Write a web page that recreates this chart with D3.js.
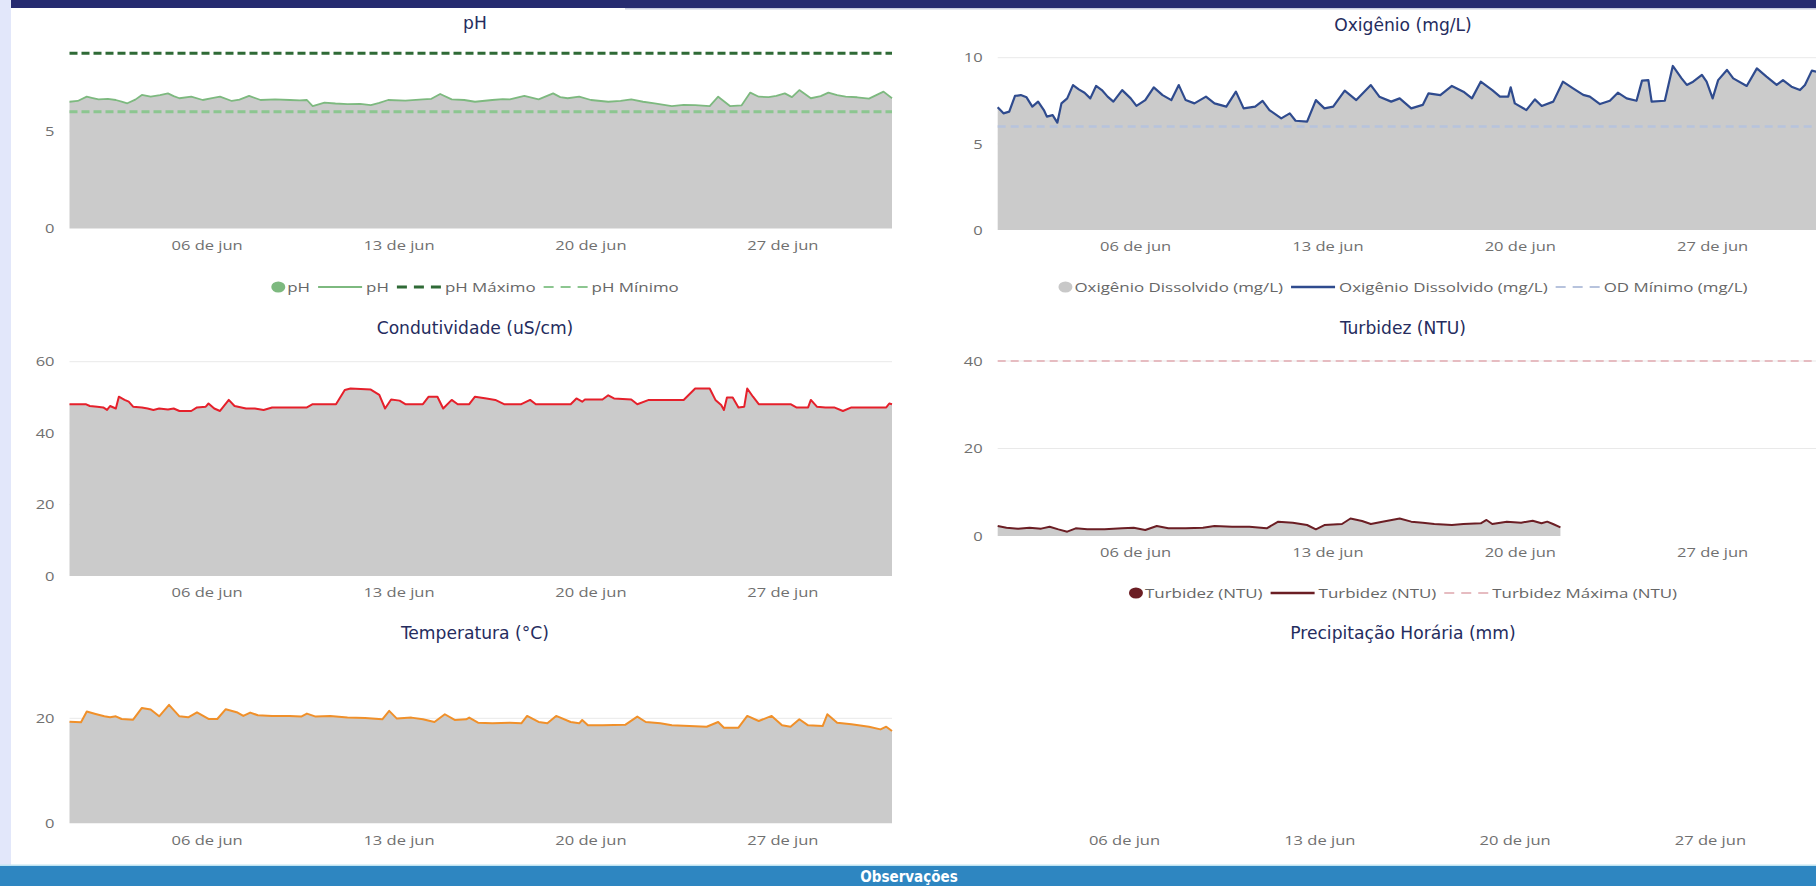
<!DOCTYPE html>
<html><head><meta charset="utf-8">
<script src="https://cdn.jsdelivr.net/npm/d3@7/dist/d3.min.js"></script>
<style>
html,body{margin:0;padding:0;background:#fff;overflow:hidden;}
svg{display:block;}
.title{font-family:"DejaVu Sans Condensed","DejaVu Sans",sans-serif;font-stretch:condensed;font-size:17px;fill:#252c5e;}
.tick text{font-family:"Open Sans",sans-serif;font-size:13px;fill:#707070;}
.legend text{font-family:"Open Sans",sans-serif;font-size:13px;fill:#666;}
</style></head>
<body>
<svg id="c" width="1816" height="886"></svg>
<script>
// ---------- data (day offset from 01 jun, value) ----------
const xTickDays = [5, 12, 19, 26];
const xTickLabels = ["06 de jun", "13 de jun", "20 de jun", "27 de jun"];

const phTicks = [0, 5];
const phMax = 9, phMin = 6;
const phData = [[0,6.51],[0.3,6.55],[0.63,6.77],[0.85,6.70],[1.06,6.63],[1.4,6.66],[1.69,6.60],[1.9,6.52],[2.11,6.43],[2.4,6.62],[2.64,6.86],[2.96,6.77],[3.3,6.85],[3.59,6.94],[3.8,6.80],[4.01,6.69],[4.44,6.77],[4.86,6.60],[5.2,6.70],[5.49,6.77],[5.92,6.55],[6.2,6.62],[6.55,6.81],[6.97,6.60],[7.5,6.63],[8.03,6.60],[8.4,6.58],[8.66,6.60],[8.87,6.29],[9.30,6.46],[9.7,6.42],[10.14,6.39],[10.6,6.40],[10.99,6.34],[11.3,6.45],[11.62,6.60],[12.25,6.57],[12.89,6.63],[13.2,6.66],[13.52,6.91],[13.94,6.63],[14.4,6.60],[14.79,6.51],[15.42,6.60],[15.8,6.65],[16.06,6.63],[16.59,6.81],[17.11,6.63],[17.64,6.94],[17.9,6.75],[18.17,6.69],[18.59,6.77],[19.02,6.60],[19.65,6.51],[20.1,6.55],[20.49,6.63],[20.92,6.51],[21.34,6.43],[21.97,6.29],[22.4,6.35],[22.82,6.34],[23.35,6.29],[23.66,6.77],[24.09,6.29],[24.51,6.32],[24.83,6.98],[25.14,6.77],[25.5,6.75],[25.78,6.81],[26.09,6.94],[26.35,6.75],[26.62,7.11],[27.04,6.69],[27.4,6.80],[27.68,6.98],[28.0,6.85],[28.31,6.77],[28.73,6.74],[29.16,6.67],[29.69,7.03],[30,6.69]];

const odTicks = [0, 5, 10];
const odMin = 6;
const odData = [[0,7.12],[0.21,6.77],[0.42,6.87],[0.63,7.78],[0.84,7.83],[1.05,7.70],[1.26,7.16],[1.47,7.45],[1.68,6.96],[1.79,6.58],[2.0,6.67],[2.17,6.23],[2.32,7.35],[2.53,7.64],[2.74,8.41],[2.95,8.16],[3.16,7.97],[3.37,7.64],[3.58,8.36],[3.79,8.12],[4.0,7.74],[4.21,7.45],[4.53,8.12],[4.84,7.64],[5.05,7.20],[5.37,7.54],[5.68,8.28],[6.0,7.83],[6.32,7.54],[6.59,8.41],[6.84,7.54],[7.16,7.35],[7.58,7.74],[7.89,7.35],[8.32,7.16],[8.67,8.03],[8.95,7.06],[9.37,7.16],[9.64,7.49],[9.89,6.96],[10.32,6.48],[10.63,6.77],[10.84,6.34],[11.26,6.29],[11.58,7.54],[11.89,7.06],[12.21,7.16],[12.63,8.09],[13.05,7.54],[13.58,8.41],[13.89,7.74],[14.32,7.45],[14.63,7.64],[15.05,7.06],[15.47,7.26],[15.68,7.93],[16.11,7.83],[16.53,8.36],[16.95,8.03],[17.26,7.64],[17.58,8.61],[18.0,8.12],[18.28,7.74],[18.58,7.74],[18.67,8.28],[18.82,7.35],[19.24,6.96],[19.55,7.58],[19.80,7.2],[20.22,7.45],[20.57,8.61],[20.94,8.22],[21.31,7.84],[21.55,7.74],[21.92,7.31],[22.28,7.5],[22.57,7.97],[22.89,7.64],[23.25,7.5],[23.45,8.67],[23.68,8.70],[23.80,7.45],[24.28,7.5],[24.57,9.52],[24.89,8.80],[25.08,8.42],[25.31,8.61],[25.63,9.0],[25.80,8.61],[26.02,7.64],[26.22,8.70],[26.54,9.29],[26.77,8.80],[27.26,8.36],[27.63,9.38],[27.98,8.9],[28.35,8.42],[28.58,8.70],[28.89,8.32],[29.20,8.12],[29.38,8.42],[29.63,9.25],[30.03,9.09]];

const condTicks = [0, 20, 40, 60];
const condData = [[0,48.1],[0.59,48.1],[0.74,47.6],[1.01,47.4],[1.23,47.2],[1.37,46.5],[1.48,47.6],[1.69,46.9],[1.80,50.2],[2.01,49.3],[2.16,48.8],[2.32,47.4],[2.64,47.2],[2.85,46.9],[3.06,46.5],[3.27,46.9],[3.59,46.6],[3.80,46.9],[4.01,46.2],[4.44,46.2],[4.65,47.2],[4.97,47.4],[5.07,48.3],[5.28,46.9],[5.49,46.2],[5.81,49.3],[6.02,47.6],[6.44,46.9],[6.76,46.9],[7.08,46.5],[7.39,47.2],[8.03,47.2],[8.66,47.2],[8.87,48.1],[9.72,48.1],[10.04,52.1],[10.25,52.5],[10.99,52.2],[11.30,50.7],[11.51,46.9],[11.73,49.4],[12.04,49.1],[12.25,48.1],[12.89,48.1],[13.10,50.2],[13.42,50.2],[13.63,46.9],[13.94,49.3],[14.16,48.1],[14.58,48.1],[14.79,50.2],[15.21,49.7],[15.53,49.3],[15.85,48.1],[16.48,48.1],[16.80,49.3],[17.01,48.1],[18.28,48.1],[18.49,49.7],[18.70,48.8],[18.80,49.4],[19.44,49.4],[19.65,50.6],[19.86,49.7],[20.49,49.4],[20.71,48.1],[21.13,49.3],[21.45,49.3],[22.40,49.3],[22.82,52.5],[23.35,52.5],[23.56,49.3],[23.77,47.9],[23.87,46.5],[23.98,50.0],[24.19,50.0],[24.40,47.2],[24.61,47.4],[24.72,52.5],[24.93,50.2],[25.14,48.1],[25.35,48.1],[26.30,48.1],[26.51,47.2],[26.94,47.2],[27.04,49.3],[27.26,47.4],[27.57,47.2],[27.89,47.2],[28.21,46.2],[28.52,47.2],[29.79,47.2],[29.90,48.3],[30,48.1]];

const turbTicks = [0, 20, 40];
const turbMax = 40;
const turbData = [[0,2.29],[0.32,1.90],[0.74,1.68],[1.16,1.90],[1.58,1.68],[1.89,2.13],[2.21,1.52],[2.53,0.99],[2.84,1.75],[3.26,1.52],[3.89,1.52],[4.53,1.75],[4.95,1.90],[5.37,1.37],[5.79,2.29],[6.21,1.75],[6.84,1.75],[7.47,1.90],[7.89,2.29],[8.53,2.13],[9.16,2.13],[9.79,1.75],[10.21,3.28],[10.74,3.05],[11.26,2.51],[11.58,1.52],[11.89,2.51],[12.53,2.74],[12.84,4.0],[13.26,3.43],[13.58,2.74],[14.0,3.28],[14.63,4.0],[15.05,3.28],[15.47,3.05],[15.89,2.74],[16.53,2.51],[16.95,2.74],[17.58,2.9],[17.79,3.66],[18.0,2.74],[18.53,3.28],[19.05,3.05],[19.47,3.5],[19.79,2.9],[20.0,3.28],[20.21,2.74],[20.48,1.98]];

const tempTicks = [0, 20];
const tempData = [[0,19.36],[0.42,19.23],[0.63,21.28],[0.95,20.83],[1.27,20.38],[1.48,20.19],[1.69,20.38],[1.90,19.87],[2.32,19.74],[2.64,21.98],[2.96,21.66],[3.27,20.38],[3.63,22.56],[4.01,20.38],[4.33,20.19],[4.65,21.15],[5.07,19.87],[5.39,19.87],[5.70,21.73],[6.13,21.09],[6.34,20.45],[6.59,21.09],[6.87,20.58],[7.39,20.45],[8.03,20.45],[8.45,20.32],[8.66,20.89],[8.98,20.32],[9.51,20.45],[10.14,20.13],[10.78,20.06],[11.41,19.81],[11.66,21.41],[11.94,19.94],[12.47,20.13],[12.89,19.81],[13.31,19.30],[13.69,20.77],[14.05,19.68],[14.47,19.81],[14.58,20.13],[14.90,19.17],[15.42,19.04],[16.06,19.17],[16.48,19.04],[16.69,20.45],[17.11,19.30],[17.43,19.04],[17.75,20.45],[18.28,19.30],[18.59,19.04],[18.70,19.68],[18.91,18.66],[19.44,18.66],[20.28,18.79],[20.71,20.32],[21.02,19.30],[21.55,19.04],[21.97,18.66],[22.61,18.53],[23.24,18.40],[23.66,19.30],[23.87,18.21],[24.40,18.21],[24.72,20.45],[25.14,19.49],[25.61,20.45],[25.99,18.66],[26.30,18.40],[26.62,19.81],[26.94,18.66],[27.47,18.53],[27.64,20.77],[28.00,19.17],[28.52,18.85],[29.16,18.40],[29.58,17.89],[29.79,18.40],[30,17.57]];

const precipData = [];

// ---------- drawing ----------
const svg = d3.select("#c");
svg.append("rect").attr("x",0).attr("y",0).attr("width",11).attr("height",866).attr("fill","#e2e7fa");
svg.append("rect").attr("x",11).attr("y",0).attr("width",1805).attr("height",8).attr("fill","#262b70");
svg.append("rect").attr("x",625).attr("y",8).attr("width",1191).attr("height",1.5).attr("fill","#c9cde0");

const FILL = "#cbcbcb";
// the screenshot's text is horizontally widened; reproduce by stretching glyphs
function stretch(sel, f) {
  sel.each(function() {
    const L = this.getComputedTextLength();
    this.setAttribute("textLength", (L * f).toFixed(2));
    this.setAttribute("lengthAdjust", "spacingAndGlyphs");
  });
}

function chart(c) {
  const g = svg.append("g");
  const x = d3.scaleLinear().domain([0, 30]).range([c.x0, c.x1]);
  const y = d3.scaleLinear().domain(c.yDomain).range([c.yBase, c.yTop]);
  // title
  g.append("text").attr("class","title").attr("x",c.cx).attr("y",c.titleY)
    .attr("text-anchor","middle").attr("dominant-baseline","central").text(c.title)
    .call(stretch, 1.12);
  // gridlines
  if (c.yTicks) {
    g.append("g").selectAll("line").data(c.yTicks.filter(t => t > 0)).join("line")
      .attr("x1",c.x0).attr("x2",c.x1).attr("y1",d=>y(d)).attr("y2",d=>y(d))
      .attr("stroke","#e9e9e9").attr("stroke-width",1);
  }
  // area + line
  if (c.data && c.data.length) {
    const area = d3.area().x(d=>x(d[0])).y0(y(0)).y1(d=>y(d[1]));
    g.append("path").datum(c.data).attr("d",area).attr("fill",FILL);
  }
  // reference lines
  (c.refs||[]).forEach(r => {
    g.append("line").attr("x1",c.x0).attr("x2",c.x1).attr("y1",y(r.v)).attr("y2",y(r.v))
      .attr("stroke",r.color).attr("stroke-width",r.w).attr("stroke-dasharray",r.dash);
  });
  if (c.data && c.data.length) {
    const line = d3.line().x(d=>x(d[0])).y(d=>y(d[1]));
    g.append("path").datum(c.data).attr("d",line).attr("fill","none")
      .attr("stroke",c.color).attr("stroke-width",c.lw).attr("stroke-linejoin","round");
  }
  // axes
  const xa = d3.axisBottom(x).tickValues(xTickDays).tickFormat((d,i)=>xTickLabels[i]).tickSize(0).tickPadding(12);
  const gx = g.append("g").attr("transform",`translate(0,${c.yBase})`).call(xa);
  gx.select(".domain").remove();
  gx.selectAll("text").call(stretch, 1.27);
  if (c.yTicks) {
    const ya = d3.axisLeft(y).tickValues(c.yTicks).tickFormat(d3.format("d")).tickSize(0).tickPadding(15);
    const gy = g.append("g").attr("transform",`translate(${c.x0},0)`).call(ya);
    gy.select(".domain").remove();
    gy.selectAll("text").call(stretch, 1.27);
  }
  // legend
  if (c.legend) {
    const lg = g.append("g").attr("class","legend");
    let cur = 0;
    c.legend.forEach(it => {
      const ig = lg.append("g").attr("transform",`translate(${cur},0)`);
      let off = 0;
      if (it.type === "dot") {
        ig.append("ellipse").attr("cx",7).attr("cy",0).attr("rx",7).attr("ry",5.5).attr("fill",it.color);
        off = 16;
      } else {
        ig.append("line").attr("x1",0).attr("x2",44).attr("y1",0).attr("y2",0)
          .attr("stroke",it.color).attr("stroke-width",it.w||2).attr("stroke-dasharray",it.dash||null);
        off = 48;
      }
      const t = ig.append("text").attr("x",off).attr("y",0).attr("dominant-baseline","central").text(it.label);
      const L = t.node().getComputedTextLength() * 1.3;
      t.attr("textLength", L.toFixed(2)).attr("lengthAdjust","spacingAndGlyphs");
      cur += off + L + 8;
    });
    const total = cur - 8;
    lg.attr("transform",`translate(${c.cx - total/2},${c.legendY})`);
  }
}

const LX0 = 69.5, LX1 = 892, RX0 = 997.7, RX1 = 1822;

chart({title:"pH", cx:475, titleY:23, x0:LX0, x1:LX1, yBase:228.5, yTop:228.5-9.6*19.47, yDomain:[0,9.6],
  yTicks:phTicks, data:phData, color:"#7db97f", lw:1.8,
  refs:[{v:phMax,color:"#2f6a36",w:3,dash:"8,4"},{v:phMin,color:"#8cc690",w:3,dash:"8,4"}],
  legendY:287,
  legend:[{type:"dot",color:"#7db97f",label:"pH"},{type:"line",color:"#7db97f",w:2,label:"pH"},
          {type:"line",color:"#2f6a36",w:3,dash:"10,7",label:"pH Máximo"},{type:"line",color:"#8cc690",w:2,dash:"10,7",label:"pH Mínimo"}]});

chart({title:"Oxigênio (mg/L)", cx:1403, titleY:25, x0:RX0, x1:RX1, yBase:230, yTop:57.7, yDomain:[0,10],
  yTicks:odTicks, data:odData, color:"#2f4b8e", lw:2.2,
  refs:[{v:odMin,color:"#b7c3dd",w:2.5,dash:"8,5"}],
  legendY:287,
  legend:[{type:"dot",color:"#c8c8c8",label:"Oxigênio Dissolvido (mg/L)"},{type:"line",color:"#2f4b8e",w:2.5,label:"Oxigênio Dissolvido (mg/L)"},
          {type:"line",color:"#b7c3dd",w:2,dash:"10,7",label:"OD Mínimo (mg/L)"}]});

chart({title:"Condutividade (uS/cm)", cx:475, titleY:328, x0:LX0, x1:LX1, yBase:576, yTop:361.7, yDomain:[0,60],
  yTicks:condTicks, data:condData, color:"#e5202b", lw:2});

chart({title:"Turbidez (NTU)", cx:1403, titleY:328, x0:RX0, x1:RX1, yBase:536, yTop:361, yDomain:[0,40],
  yTicks:turbTicks, data:turbData, color:"#6b1e24", lw:2,
  refs:[{v:turbMax,color:"#e6bcc1",w:2,dash:"8,5"}],
  legendY:593,
  legend:[{type:"dot",color:"#6b1e24",label:"Turbidez (NTU)"},{type:"line",color:"#6b1e24",w:2.5,label:"Turbidez (NTU)"},
          {type:"line",color:"#e6bcc1",w:2,dash:"10,7",label:"Turbidez Máxima (NTU)"}]});

chart({title:"Temperatura (°C)", cx:475, titleY:633, x0:LX0, x1:LX1, yBase:823.3, yTop:823.3-24*5.25, yDomain:[0,24],
  yTicks:tempTicks, data:tempData, color:"#f0902a", lw:2});

chart({title:"Precipitação Horária (mm)", cx:1403, titleY:633, x0:984.5, x1:1821.5, yBase:823.3, yTop:700, yDomain:[0,1],
  yTicks:null, data:precipData});

// bottom bar
svg.append("rect").attr("x",0).attr("y",864.5).attr("width",1816).attr("height",1.5).attr("fill","#bfe4f2");
svg.append("rect").attr("x",0).attr("y",866).attr("width",1816).attr("height",20).attr("fill","#2e86c1");
svg.append("text").attr("x",909).attr("y",877).attr("text-anchor","middle").attr("dominant-baseline","central")
  .attr("font-family","DejaVu Sans Condensed, DejaVu Sans").attr("font-stretch","condensed").attr("font-weight","bold")
  .attr("font-size","15px").attr("fill","#fff").text("Observações");
</script>
</body></html>
